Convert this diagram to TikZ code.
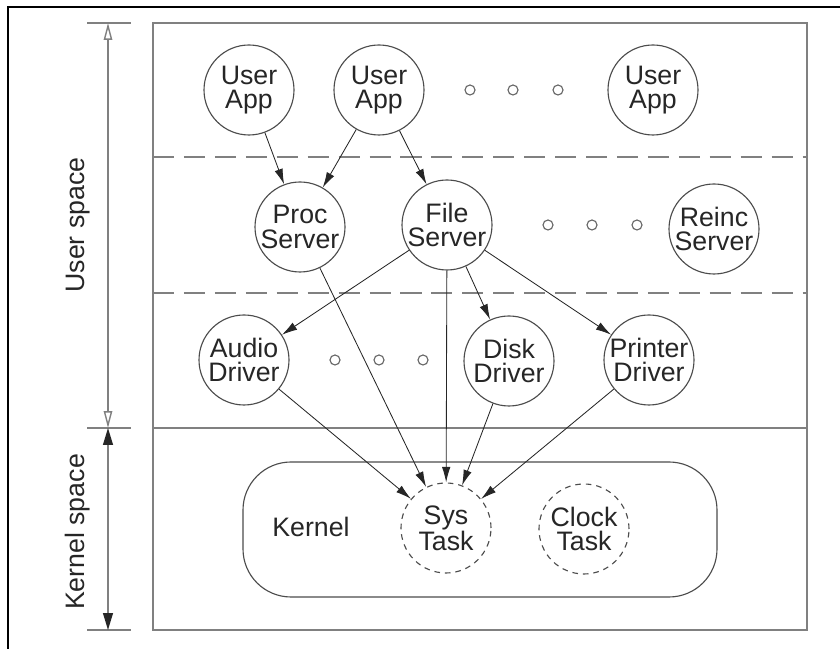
\documentclass[tikz,border=0pt]{standalone}
\usepackage{fontspec}
\setmainfont{Liberation Sans}
\usetikzlibrary{arrows.meta}
\tikzset{
  box/.style={draw=black!50, line width=1pt},
  layer/.style={box, dash pattern=on 15pt off 7pt},
  proc/.style={circle, draw=black!70, line width=0.8pt, minimum size=2.25cm,
    inner sep=0pt, align=center, text=black!85, font=\fontsize{19}{17.5}\selectfont},
  ktask/.style={proc, dash pattern=on 4pt off 3.5pt},
  ring/.style={circle, draw=black!60, line width=0.8pt, minimum size=0.25cm, inner sep=0pt},
  link/.style={-{Latex[length=11pt,width=6pt]}, line width=0.6pt, black!85},
  label/.style={text=black!85, font=\fontsize{19}{17.5}\selectfont},
}
\begin{document}
\begin{tikzpicture}
\useasboundingbox (0,0) rectangle (21,16.225);
\draw[line width=1.4pt] (0.2,-1) -- (0.2,16.05) -- (22,16.05);
% layers
\draw[box] (3.825,0.475) rectangle (20.175,15.65);
\draw[box] (3.825,5.525) -- (20.175,5.525);
\draw[layer] (3.825,12.3) -- (20.175,12.3);
\draw[layer] (3.825,8.9) -- (20.175,8.9);
% space markers
\coordinate (utop) at (2.7,15.65);
\coordinate (umid) at (2.7,5.525);
\coordinate (kbot) at (2.7,0.475);
\draw[box] (2.175,15.65) -- (3.275,15.65);
\draw[box] (2.175,5.525) -- (3.275,5.525);
\draw[box] (2.175,0.475) -- (3.275,0.475);
\draw[box, {Triangle[open,length=12pt,width=6pt]}-{Triangle[open,length=12pt,width=6pt]}] (utop) -- (umid);
\draw[box, {Triangle[length=12pt,width=7pt,color=black!85]}-{Triangle[length=12pt,width=7pt,color=black!85]}] (umid) -- (kbot);
\node[label, rotate=90] (ulabel) at (1.95,10.6) {User space};
\node[label, rotate=90] (klabel) at (1.95,2.925) {Kernel space};
% user apps
\node[proc] (app1) at (6.225,13.975) {User\\App};
\node[proc] (app2) at (9.475,13.975) {User\\App};
\node[proc] (app3) at (16.325,13.975) {User\\App};
\foreach \x [count=\i] in {11.75,12.825,13.95}
  \node[ring] (ad\i) at (\x,13.975) {};
% servers
\node[proc] (procs) at (7.5,10.55) {Proc\\Server};
\node[proc] (files) at (11.175,10.6) {File\\Server};
\node[proc] (reinc) at (17.85,10.5) {Reinc\\Server};
\foreach \x [count=\i] in {13.7,14.8,15.925}
  \node[ring] (sd\i) at (\x,10.6) {};
% drivers
\node[proc] (audio) at (6.1,7.225) {Audio\\Driver};
\node[proc] (disk) at (12.725,7.2) {Disk\\Driver};
\node[proc] (printer) at (16.225,7.225) {Printer\\Driver};
\foreach \x [count=\i] in {8.375,9.475,10.575}
  \node[ring] (dd\i) at (\x,7.225) {};
% kernel
\draw[draw=black!70, line width=0.8pt, rounded corners=1.2cm] (6.075,1.3) rectangle (17.925,4.675);
\node[label] (kernel) at (7.775,3.05) {Kernel};
\node[ktask] (sys) at (11.15,3.025) {Sys\\Task};
\node[ktask] (clock) at (14.6,3.0) {Clock\\Task};
% messages
\draw[link] (app1) -- (procs);
\draw[link] (app2) -- (procs);
\draw[link] (app2) -- (files);
\draw[link] (files) -- (audio);
\draw[link] (files) -- (disk);
\draw[link] (files) -- (printer);
\draw[link] (procs) -- (sys);
\draw[link] (files) -- (sys);
\draw[link] (audio) -- (sys);
\draw[link] (disk) -- (sys);
\draw[link] (printer) -- (sys);
\end{tikzpicture}
\end{document}
